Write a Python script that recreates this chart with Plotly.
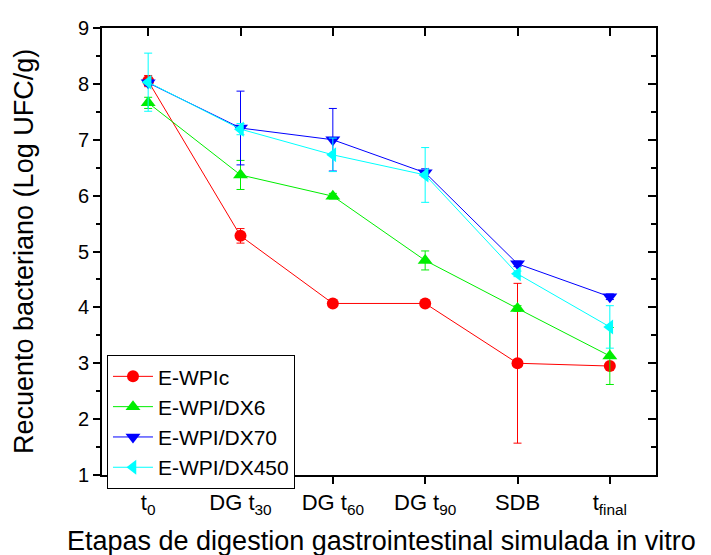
import plotly.graph_objects as go

categories = ["t<sub>0</sub>", "DG t<sub>30</sub>", "DG t<sub>60</sub>", "DG t<sub>90</sub>", "SDB", "t<sub>final</sub>"]
x_idx = [0, 1, 2, 3, 4, 5]

wpic = [8.05, 5.28, 4.07, 4.07, 3.00, 2.95]
wpic_err = [0.10, 0.13, 0.05, 0.05, 1.43, 0.05]
dx6 = [7.66, 6.37, 5.99, 4.84, 3.98, 3.13]
dx6_err = [0.10, 0.26, 0.05, 0.17, 0.05, 0.51]
dx70 = [8.02, 7.21, 7.00, 6.41, 4.78, 4.19]
dx70_err = [0.05, 0.66, 0.56, 0.07, 0.05, 0.05]
dx450 = [8.03, 7.19, 6.73, 6.37, 4.60, 3.65]
dx450_err = [0.52, 0.10, 0.30, 0.49, 0.05, 0.38]

series = [
    ("E-WPIc", wpic, wpic_err, "#ff0000", "circle"),
    ("E-WPI/DX6", dx6, dx6_err, "#00ee00", "triangle-up"),
    ("E-WPI/DX70", dx70, dx70_err, "#0000ff", "triangle-down"),
    ("E-WPI/DX450", dx450, dx450_err, "#00ffff", "triangle-left"),
]

fig = go.Figure()
for name, vals, errs, col, sym in series:
    fig.add_trace(go.Scatter(
        x=x_idx, y=vals, name=name, mode="lines+markers",
        line=dict(color=col, width=1),
        marker=dict(color=col, symbol=sym, size=13 if sym != "circle" else 12),
        error_y=dict(type="data", array=errs, visible=True, color=col, thickness=1, width=4),
    ))

# invisible trace to host mirrored axes with inward ticks
fig.add_trace(go.Scatter(x=[0], y=[5], xaxis="x2", yaxis="y2", mode="markers",
                         marker=dict(opacity=0), showlegend=False, hoverinfo="skip"))

font_family = "Liberation Sans, Arial, sans-serif"

fig.update_layout(
    width=711, height=555,
    margin=dict(l=102, r=55, t=28, b=80),
    paper_bgcolor="white", plot_bgcolor="white",
    font=dict(family=font_family, color="black"),
    showlegend=True,
    legend=dict(x=0.009, y=0.268, xanchor="left", yanchor="top",
                bordercolor="black", borderwidth=1, bgcolor="white",
                font=dict(size=21, family=font_family), tracegroupgap=0,
                itemwidth=40),
    xaxis=dict(range=[-0.5, 5.5], tickmode="array", tickvals=x_idx, ticktext=categories,
               showgrid=False, zeroline=False, showline=True, linecolor="black", linewidth=2,
               ticks="outside", ticklen=7, tickwidth=1.5, tickcolor="black",
               tickfont=dict(size=22, family=font_family)),
    yaxis=dict(range=[1, 9], dtick=1, showgrid=False, zeroline=False, showline=True,
               linecolor="black", linewidth=2, ticks="outside", ticklen=7, tickwidth=1.5,
               tickcolor="black", tickfont=dict(size=20, family=font_family),
               minor=dict(dtick=0.5, ticks="outside", ticklen=4, tickwidth=1.5, tickcolor="black")),
    xaxis2=dict(overlaying="x", side="top", range=[-0.5, 5.5], tickmode="array", tickvals=x_idx,
                showticklabels=False, showgrid=False, zeroline=False, showline=True,
                linecolor="black", linewidth=2, ticks="inside", ticklen=8, tickwidth=1.5,
                tickcolor="black"),
    yaxis2=dict(overlaying="y", side="right", range=[1, 9], dtick=1, showticklabels=False,
                showgrid=False, zeroline=False, showline=True, linecolor="black", linewidth=2,
                ticks="inside", ticklen=8, tickwidth=1.5, tickcolor="black",
                minor=dict(dtick=0.5, ticks="inside", ticklen=5, tickwidth=1.5, tickcolor="black")),
    annotations=[
        dict(text="Recuento bacteriano (Log UFC/g)", textangle=-90, xref="paper", yref="paper",
             x=-0.1408, y=0.501, xanchor="center", yanchor="middle", showarrow=False,
             font=dict(size=27, family=font_family)),
        dict(text="Etapas de digestion gastrointestinal simulada in vitro", xref="paper", yref="paper",
             x=0.504, y=-0.148, xanchor="center", yanchor="middle", showarrow=False,
             font=dict(size=27, family=font_family)),
    ],
)

fig.write_html("out.html")
